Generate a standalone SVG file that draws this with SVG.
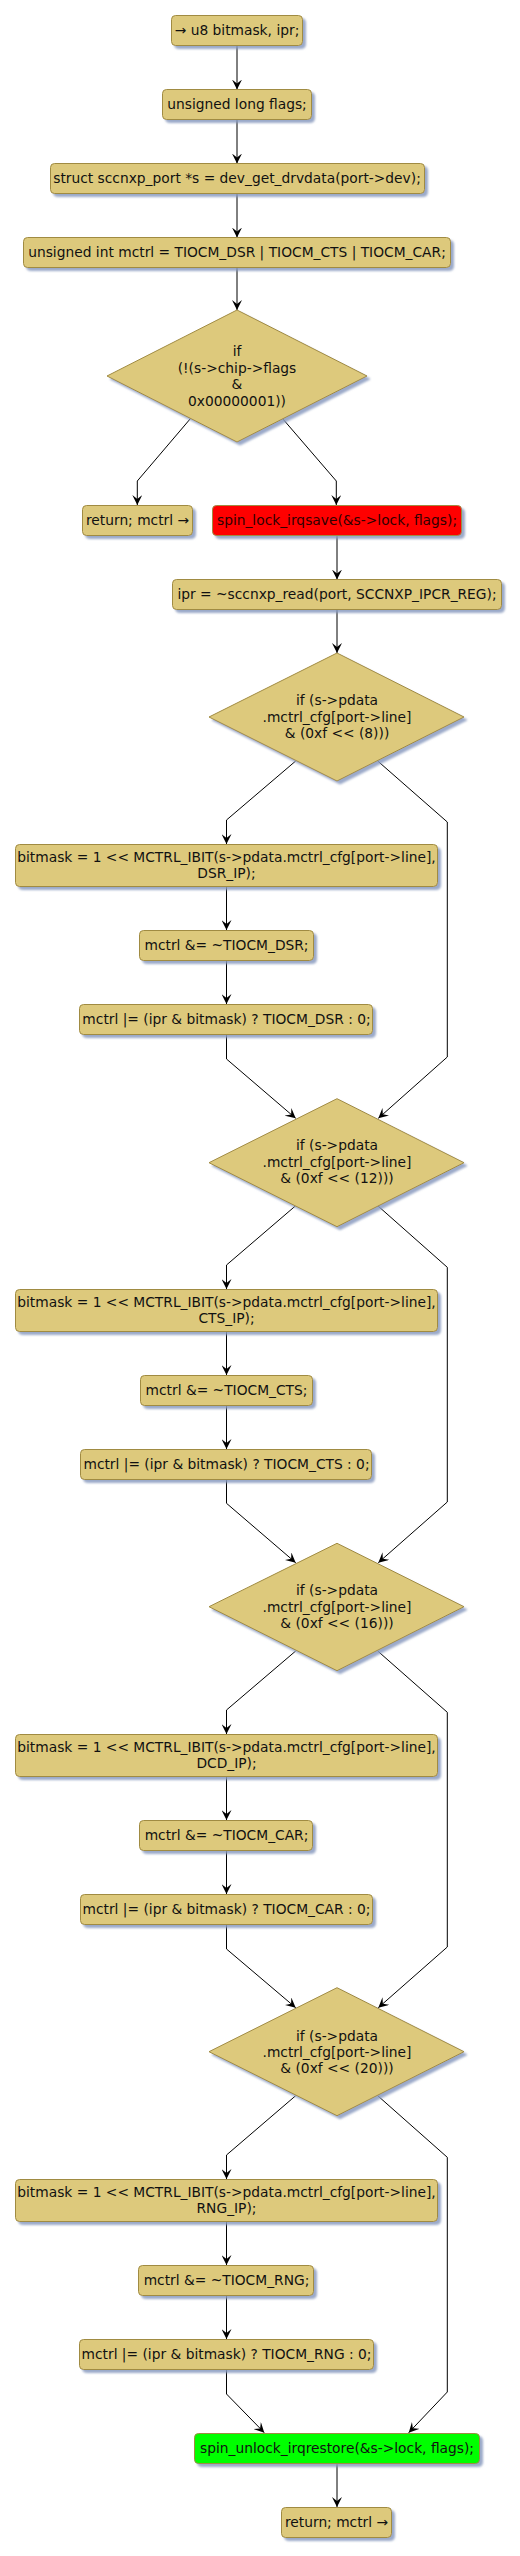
<svg xmlns="http://www.w3.org/2000/svg" width="520" height="2556" viewBox="0 0 520 2556">
<style>
.n{fill:#DDC97C;stroke:#A08B42;stroke-width:1;filter:url(#sh)}
.red{fill:#FF0000;stroke:#A08B42;stroke-width:1;filter:url(#sh)}
.grn{fill:#00FF00;stroke:#A08B42;stroke-width:1;filter:url(#sh)}
text{font-family:"DejaVu Sans","Liberation Sans",sans-serif;font-size:13.8px;fill:#111;text-anchor:middle}
.rt{fill:#300000}
.c{fill:none;stroke:#000;stroke-width:1;marker-end:url(#ar)}
</style>
<defs>
<filter id="sh" x="-10%" y="-10%" width="130%" height="140%">
<feDropShadow dx="3" dy="3" stdDeviation="1.2" flood-color="#8A9BC0" flood-opacity="0.85"/>
</filter>
<marker id="ar" viewBox="0 0 10 10" refX="10" refY="5" markerWidth="10" markerHeight="10" markerUnits="userSpaceOnUse" orient="auto">
<path d="M0,0 L10,5 L0,10 L4,5 Z" fill="#000"/>
</marker>
</defs>
<rect width="520" height="2556" fill="#fff"/>
<g id="connectors">
<path class="c" d="M237,45.5 V89.5"/>
<path class="c" d="M237,119.5 V163.5"/>
<path class="c" d="M237,193.5 V237.5"/>
<path class="c" d="M237,267.5 V310"/>
<path class="c" d="M190.7,418.3 L137.3,481 V505"/>
<path class="c" d="M282.3,418.3 L336.3,481 V505"/>
<path class="c" d="M337,535.5 V579.5"/>
<path class="c" d="M337,609.5 V653"/>
<path class="c" d="M295.7,761 L226.5,820 V844"/>
<path class="c" d="M377.7,761 L447.3,822 V1057 L378.3,1118.3"/>
<path class="c" d="M226.5,886.5 V930"/>
<path class="c" d="M226.5,960.5 V1004"/>
<path class="c" d="M226.5,1034.5 V1059 L295.7,1118.3"/>
<path class="c" d="M295.7,1205.7 L226.5,1265 V1289"/>
<path class="c" d="M377.7,1205.7 L447.3,1267.3 V1502 L378.3,1562.7"/>
<path class="c" d="M226.5,1331.5 V1375"/>
<path class="c" d="M226.5,1405.5 V1449"/>
<path class="c" d="M226.5,1479.5 V1503.3 L295.7,1562.7"/>
<path class="c" d="M295.7,1651 L226.5,1710 V1734"/>
<path class="c" d="M377.7,1651 L447.3,1712.3 V1947 L378.3,2007.7"/>
<path class="c" d="M226.5,1776.5 V1820"/>
<path class="c" d="M226.5,1850.5 V1894"/>
<path class="c" d="M226.5,1924.5 V1949 L295.7,2007.7"/>
<path class="c" d="M295.7,2095.7 L226.5,2155 V2179"/>
<path class="c" d="M377.7,2095.7 L447.3,2157.3 V2392 L408.7,2432.7"/>
<path class="c" d="M226.5,2222 V2265"/>
<path class="c" d="M226.5,2295.5 V2339"/>
<path class="c" d="M226.5,2369.5 V2394 L264.3,2432.7"/>
<path class="c" d="M337,2463.5 V2507"/>
</g>
<g id="n1"><rect class="n" x="171.5" y="15.5" width="131" height="30" rx="4"/><text x="237" y="35">→ u8 bitmask, ipr;</text></g>
<g id="n2"><rect class="n" x="162.5" y="89.5" width="149" height="30" rx="4"/><text x="237" y="109">unsigned long flags;</text></g>
<g id="n3"><rect class="n" x="50.5" y="163.5" width="374" height="30" rx="4"/><text x="237" y="183">struct sccnxp_port *s = dev_get_drvdata(port-&gt;dev);</text></g>
<g id="n4"><rect class="n" x="23.5" y="237.5" width="427" height="30" rx="4"/><text x="237" y="257">unsigned int mctrl = TIOCM_DSR | TIOCM_CTS | TIOCM_CAR;</text></g>
<g id="d1"><polygon class="n" points="237,310 367,376 237,442 107,376"/><text x="237" y="356">if</text><text x="237" y="372.5">(!(s-&gt;chip-&gt;flags</text><text x="237" y="389">&amp;</text><text x="237" y="405.5">0x00000001))</text></g>
<g id="ret1"><rect class="n" x="82.5" y="505.5" width="110" height="30" rx="4"/><text x="137.5" y="525">return; mctrl →</text></g>
<g id="lock"><rect class="red" x="212.5" y="505.5" width="249" height="30" rx="4"/><text class="rt" x="337" y="525">spin_lock_irqsave(&amp;s-&gt;lock, flags);</text></g>
<g id="ipr"><rect class="n" x="172.5" y="579.5" width="329" height="30" rx="4"/><text x="337" y="599">ipr = ~sccnxp_read(port, SCCNXP_IPCR_REG);</text></g>
<g id="d2"><polygon class="n" points="337,653 464,717 337,781 209,717"/><text x="337" y="705">if (s-&gt;pdata</text><text x="337" y="721.7">.mctrl_cfg[port-&gt;line]</text><text x="337" y="738.3">&amp; (0xf &lt;&lt; (8)))</text></g>
<g id="bm1"><rect class="n" x="15.5" y="844.5" width="422" height="42" rx="4"/><text x="226.5" y="861.7">bitmask = 1 &lt;&lt; MCTRL_IBIT(s-&gt;pdata.mctrl_cfg[port-&gt;line],</text><text x="226.5" y="878.3">DSR_IP);</text></g>
<g id="and1"><rect class="n" x="139.5" y="930.5" width="174" height="30" rx="4"/><text x="226.5" y="950">mctrl &amp;= ~TIOCM_DSR;</text></g>
<g id="or1"><rect class="n" x="79.5" y="1004.5" width="293" height="30" rx="4"/><text x="226.5" y="1024">mctrl |= (ipr &amp; bitmask) ? TIOCM_DSR : 0;</text></g>
<g id="d3"><polygon class="n" points="337,1098.7 464,1162.7 337,1226.7 209,1162.7"/><text x="337" y="1150">if (s-&gt;pdata</text><text x="337" y="1166.7">.mctrl_cfg[port-&gt;line]</text><text x="337" y="1183.3">&amp; (0xf &lt;&lt; (12)))</text></g>
<g id="bm2"><rect class="n" x="15.5" y="1289.5" width="422" height="42" rx="4"/><text x="226.5" y="1306.5">bitmask = 1 &lt;&lt; MCTRL_IBIT(s-&gt;pdata.mctrl_cfg[port-&gt;line],</text><text x="226.5" y="1323">CTS_IP);</text></g>
<g id="and2"><rect class="n" x="140.5" y="1375.5" width="172" height="30" rx="4"/><text x="226.5" y="1395">mctrl &amp;= ~TIOCM_CTS;</text></g>
<g id="or2"><rect class="n" x="80.5" y="1449.5" width="291" height="30" rx="4"/><text x="226.5" y="1469">mctrl |= (ipr &amp; bitmask) ? TIOCM_CTS : 0;</text></g>
<g id="d4"><polygon class="n" points="337,1543.3 464,1606.7 337,1670.7 209,1606.7"/><text x="337" y="1595">if (s-&gt;pdata</text><text x="337" y="1611.7">.mctrl_cfg[port-&gt;line]</text><text x="337" y="1628.3">&amp; (0xf &lt;&lt; (16)))</text></g>
<g id="bm3"><rect class="n" x="15.5" y="1734.5" width="422" height="42" rx="4"/><text x="226.5" y="1751.7">bitmask = 1 &lt;&lt; MCTRL_IBIT(s-&gt;pdata.mctrl_cfg[port-&gt;line],</text><text x="226.5" y="1768.3">DCD_IP);</text></g>
<g id="and3"><rect class="n" x="139.5" y="1820.5" width="173" height="30" rx="4"/><text x="226.5" y="1840">mctrl &amp;= ~TIOCM_CAR;</text></g>
<g id="or3"><rect class="n" x="80.5" y="1894.5" width="292" height="30" rx="4"/><text x="226.5" y="1914">mctrl |= (ipr &amp; bitmask) ? TIOCM_CAR : 0;</text></g>
<g id="d5"><polygon class="n" points="337,1987.7 464,2051.7 337,2115.7 209,2051.7"/><text x="337" y="2040.7">if (s-&gt;pdata</text><text x="337" y="2056.7">.mctrl_cfg[port-&gt;line]</text><text x="337" y="2072.7">&amp; (0xf &lt;&lt; (20)))</text></g>
<g id="bm4"><rect class="n" x="15.5" y="2179.5" width="422" height="42" rx="4"/><text x="226.5" y="2197">bitmask = 1 &lt;&lt; MCTRL_IBIT(s-&gt;pdata.mctrl_cfg[port-&gt;line],</text><text x="226.5" y="2213.3">RNG_IP);</text></g>
<g id="and4"><rect class="n" x="138.5" y="2265.5" width="175" height="30" rx="4"/><text x="226.5" y="2285">mctrl &amp;= ~TIOCM_RNG;</text></g>
<g id="or4"><rect class="n" x="79.5" y="2339.5" width="294" height="30" rx="4"/><text x="226.5" y="2359">mctrl |= (ipr &amp; bitmask) ? TIOCM_RNG : 0;</text></g>
<g id="unlock"><rect class="grn" x="194.5" y="2433.5" width="285" height="30" rx="4"/><text x="337" y="2453">spin_unlock_irqrestore(&amp;s-&gt;lock, flags);</text></g>
<g id="ret2"><rect class="n" x="281.5" y="2507.5" width="110" height="30" rx="4"/><text x="336.5" y="2527">return; mctrl →</text></g>
</svg>
